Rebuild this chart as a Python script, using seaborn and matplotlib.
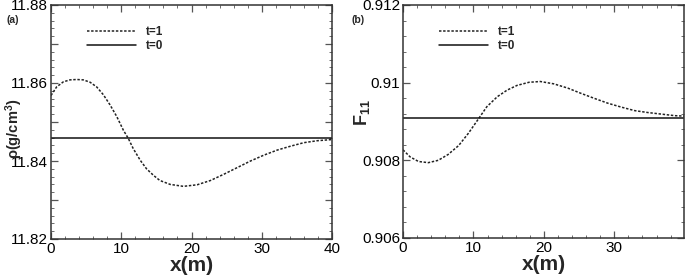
import numpy as np
import pandas as pd
import matplotlib
matplotlib.use("Agg")
import matplotlib.pyplot as plt
import seaborn as sns
from matplotlib.ticker import MultipleLocator, FuncFormatter

# ---- data ----
x_rho_t1 = [0.0, 0.8, 1.76, 2.7, 3.66, 4.6, 5.56, 6.5, 7.45, 8.4, 9.36, 10.3, 11.0,
            11.7, 12.7, 13.6, 14.6, 15.5, 16.96, 18.85, 20.8, 22.7, 24.6, 26.5,
            28.4, 30.3, 32.2, 34.1, 36.0, 37.9, 40.0]
y_rho_t1 = [11.8568, 11.8590, 11.8603, 11.8608, 11.8609, 11.8608, 11.8602, 11.8590,
            11.8570, 11.8544, 11.8514, 11.8479, 11.8458, 11.8432, 11.8402, 11.8380,
            11.8363, 11.8350, 11.8340, 11.8335, 11.8339, 11.8350, 11.8366, 11.8383,
            11.8400, 11.8415, 11.8428, 11.8438, 11.8447, 11.8452, 11.8455]
x_rho_t0 = [0.0, 40.0]
y_rho_t0 = [11.8458, 11.8458]

x_f_t1 = [0.0, 1.0, 2.2, 3.6, 5.0, 6.4, 7.9, 9.3, 10.8, 11.9, 13.4, 14.8, 16.2, 17.9,
          19.5, 21.4, 23.4, 25.2, 27.1, 29.1, 31.0, 32.9, 34.8, 36.7, 38.6, 39.9]
y_f_t1 = [0.90827, 0.90809, 0.90797, 0.90794, 0.90800, 0.90815, 0.90838, 0.90870,
          0.90909, 0.90938, 0.90964, 0.90981, 0.90993, 0.91001, 0.91003, 0.90997,
          0.90986, 0.90973, 0.90960, 0.90947, 0.90937, 0.90928, 0.90923, 0.90919,
          0.90915, 0.90914]
x_f_t0 = [0.0, 39.9]
y_f_t0 = [0.90909, 0.90909]

series_labels = ["t=1", "t=0"]

sns.set_theme(style="white")
plt.rcParams["font.family"] = ["Liberation Sans", "DejaVu Sans"]
plt.rcParams["mathtext.fontset"] = "custom"
plt.rcParams["mathtext.rm"] = "Liberation Sans:bold"
plt.rcParams["mathtext.bf"] = "Liberation Sans:bold"
plt.rcParams["mathtext.default"] = "bf"

fig = plt.figure(figsize=(6.85, 2.76), dpi=100)
ax1 = fig.add_axes([51/685, 37/276, 281/685, 234/276])
ax2 = fig.add_axes([403/685, 38/276, 281/685, 233/276])


def make_df(x1, y1, x0, y0):
    return pd.concat([
        pd.DataFrame({"x": x1, "y": y1, "t": series_labels[0]}),
        pd.DataFrame({"x": x0, "y": y0, "t": series_labels[1]}),
    ], ignore_index=True)


dashes = {"t=1": (1.6, 1.1), "t=0": ""}
palette = {"t=1": "#222222", "t=0": "#111111"}

for ax, df in [(ax1, make_df(x_rho_t1, y_rho_t1, x_rho_t0, y_rho_t0)),
               (ax2, make_df(x_f_t1, y_f_t1, x_f_t0, y_f_t0))]:
    sns.lineplot(data=df, x="x", y="y", hue="t", style="t", dashes=dashes,
                 palette=palette, linewidth=1.1, ax=ax, legend=True,
                 sort=False, estimator=None)
    for sp in ax.spines.values():
        sp.set_linewidth(1.1)
        sp.set_color("#333333")
    ax.tick_params(which="both", direction="in", top=True, right=True,
                   bottom=True, left=True,
                   colors="#555555", labelcolor="black", labelsize=11)
    ax.tick_params(which="major", length=5, width=0.9, pad=2)
    ax.tick_params(which="minor", length=2.5, width=0.6)
    ax.xaxis.set_major_locator(MultipleLocator(10))
    ax.xaxis.set_minor_locator(MultipleLocator(2))
    ax.set_xlabel("x(m)", fontsize=15, fontweight="bold", labelpad=0)
    handles, labels = ax.get_legend_handles_labels()
    leg = ax.legend(handles, labels, loc="upper left", bbox_to_anchor=(0.09, 0.955),
                    frameon=False, handlelength=4.2, handletextpad=0.8,
                    labelspacing=0.15, prop={"weight": "bold", "size": 8.5})

ax1.set_xlim(0, 40)
ax1.set_ylim(11.82, 11.88)
ax1.yaxis.set_major_locator(MultipleLocator(0.01))
ax1.yaxis.set_minor_locator(MultipleLocator(0.002))
ax1.yaxis.set_major_formatter(FuncFormatter(
    lambda v, p: f"{v:.2f}" if abs(round(v / 0.02) * 0.02 - v) < 1e-6 else ""))
ax1.set_ylabel(r"$\rho$(g/cm$^3$)", fontsize=10.5, fontweight="bold",
               ha="left", va="center", rotation_mode="default")
ax1.yaxis.set_label_coords(-0.17, 0.47)

ax2.set_xlim(0, 39.9)
ax2.set_ylim(0.906, 0.912)
ax2.yaxis.set_major_locator(MultipleLocator(0.002))
ax2.yaxis.set_minor_locator(MultipleLocator(0.0004))
ax2.yaxis.set_major_formatter(FuncFormatter(lambda v, p: f"{v:.3f}".rstrip("0")))
ax2.set_ylabel(r"F$_{11}$", fontsize=13, fontweight="bold")
ax2.yaxis.set_label_coords(-0.11, 0.54)

fig.text(6/685, 1 - 20/276, "(a)", fontsize=7.5, fontweight="bold", va="center")
fig.text(352/685, 1 - 20/276, "(b)", fontsize=7.5, fontweight="bold", va="center")

fig.savefig("out.png", dpi=100)
